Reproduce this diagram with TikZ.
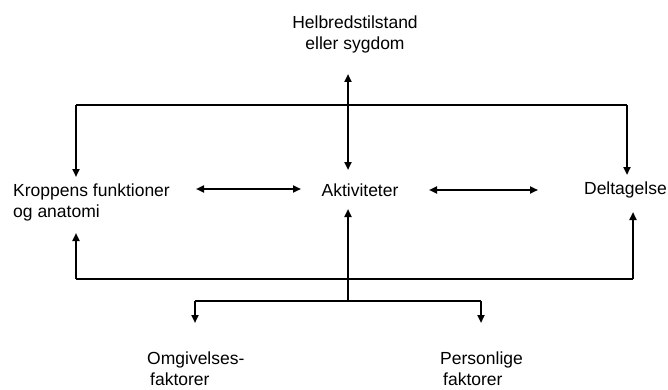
\documentclass[tikz,border=0pt]{standalone}
\usepackage{fontspec}
\setmainfont{Liberation Sans}
\usetikzlibrary{arrows.meta}
\begin{document}
\begin{tikzpicture}[x=1pt,y=-1pt,
  lbl/.style={font=\fontsize{17.5}{21}\selectfont, inner sep=0pt, align=center},
  thick line/.style={line width=2.2pt},
  thin line/.style={line width=1.1pt},
  tip/.style={-{Triangle[length=8pt,width=7pt]}},
  both/.style={{Triangle[length=8pt,width=7pt]}-{Triangle[length=8pt,width=7pt]}}]
\useasboundingbox (0,0) rectangle (668,390);
% nodes
\node[lbl] (helb) at (355,34) {Helbredstilstand\\eller sygdom};
\node[lbl, align=left, anchor=west] (krop) at (13,202.5) {Kroppens funktioner\\og anatomi};
\node[lbl] (akt) at (360,190) {Aktiviteter};
\node[lbl, anchor=east] (delt) at (667,190) {Deltagelse};
\node[lbl, align=left, anchor=west] (omg) at (147,369) {Omgivelses-\\\hspace{3pt}faktorer};
\node[lbl, align=left, anchor=west] (pers) at (440,369) {Personlige\\\hspace{3pt}faktorer};
% coordinates
\coordinate (htip) at (348,74);
\coordinate (atop) at (348,170);
\coordinate (tl) at (76,105);
\coordinate (tr) at (627,105);
\coordinate (ktop) at (76,177);
\coordinate (dtop) at (627,175);
\coordinate (bl) at (76,279);
\coordinate (br) at (633,279);
\coordinate (kbot) at (76,233);
\coordinate (dbot) at (633,212);
\coordinate (abot) at (348,209);
\coordinate (stem) at (348,301);
\coordinate (fl) at (195,301);
\coordinate (fr) at (481,301);
\coordinate (ftl) at (195,323);
\coordinate (ftr) at (481,323);
\coordinate (k1) at (196,189);
\coordinate (a1) at (301,189);
\coordinate (a2) at (429,190);
\coordinate (d2) at (538,190);
% top
\draw[thick line, both] (htip) -- (atop);
\draw[thin line] (tl) -- (tr);
\draw[thick line, tip] (tl) -- (ktop);
\draw[thick line, tip] (tr) -- (dtop);
% horizontal
\draw[thick line, both] (k1) -- (a1);
\draw[thick line, both] (a2) -- (d2);
% bottom
\draw[line width=1.3pt] (bl) -- (br);
\draw[thick line, tip] (bl) -- (kbot);
\draw[thick line, tip] (br) -- (dbot);
\draw[thick line, tip] (stem) -- (abot);
\draw[line width=1.3pt] (fl) -- (fr);
\draw[thick line, tip] (fl) -- (ftl);
\draw[thick line, tip] (fr) -- (ftr);
\end{tikzpicture}
\end{document}
